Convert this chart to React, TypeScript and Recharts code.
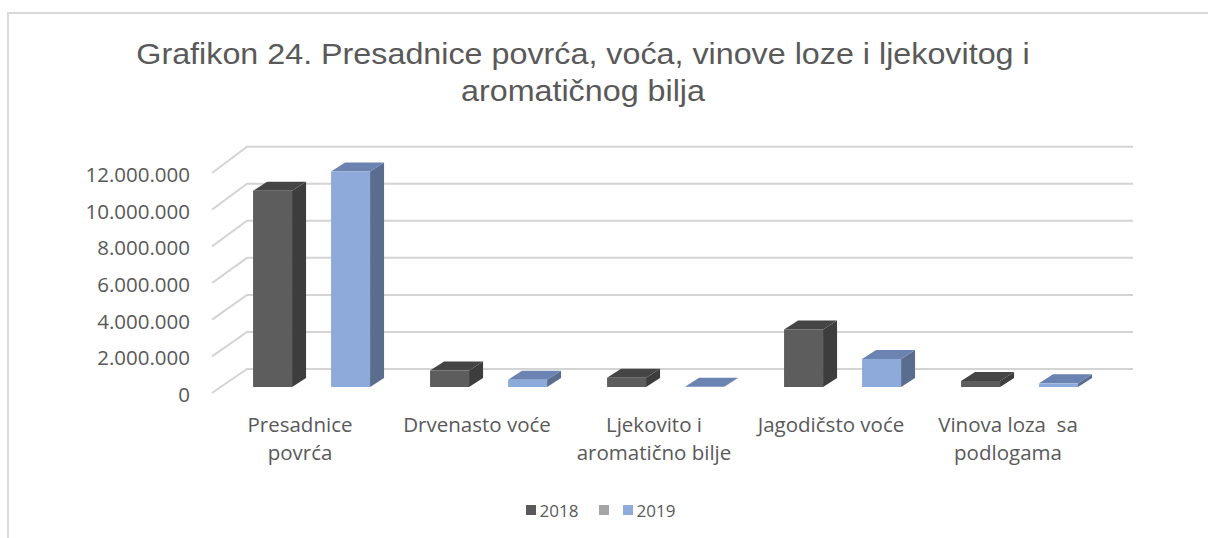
import React from 'react';
import { BarChart, Bar, XAxis, YAxis, CartesianGrid, Legend } from 'recharts';

const categories = [
  'Presadnice\npovrća',
  'Drvenasto voće',
  'Ljekovito i\naromatično bilje',
  'Jagodičsto voće',
  'Vinova loza  sa\npodlogama',
];
const values2018 = [10700000, 900000, 500000, 3140000, 330000];
const values2019 = [11750000, 400000, 20000, 1530000, 200000];
const yTicks = [0, 2000000, 4000000, 6000000, 8000000, 10000000, 12000000];
const seriesOrder = ['y2018', 'blank', 'y2019'];
const titleLines = ['Grafikon 24. Presadnice povrća, voća, vinove loze i ljekovitog i', 'aromatičnog bilja'];

const data = categories.map((c, i) => ({
  name: c,
  y2018: values2018[i],
  blank: null,
  y2019: values2019[i],
}));

const W = 1208;
const H = 538;
const PLOT_LEFT = 223.5;
const PLOT_RIGHT = 1108.5;
const PLOT_TOP = 167;
const PLOT_BOTTOM = 387;
const LEGEND_BOTTOM = 16;
const LEGEND_H = 24;
const XAXIS_H = H - PLOT_BOTTOM - LEGEND_BOTTOM - LEGEND_H;
const DX = 14;
const DY = 9;
const TEXT = '#595959';
const LABEL_FONT = '"Open Sans", sans-serif';

const fmt = (v: number) => String(v).replace(/\B(?=(\d{3})+(?!\d))/g, '.');

const makeShape = (front: string, side: string, top: string) => (props: any) => {
  const { x, y, width, height } = props;
  if (x == null || y == null || height == null || isNaN(y)) return <g />;
  return (
    <g>
      <polygon
        points={`${x + width},${y} ${x + width + DX},${y - DY} ${x + width + DX},${y + height - DY} ${x + width},${y + height}`}
        fill={side}
      />
      <polygon
        points={`${x},${y} ${x + DX},${y - DY} ${x + width + DX},${y - DY} ${x + width},${y}`}
        fill={top}
      />
      <rect x={x} y={y} width={width} height={Math.max(height, 0)} fill={front} />
    </g>
  );
};

const GridLine = (p: any) => {
  const y = p.y1;
  const frontY = y + 6;
  const backY = y - 18 - (PLOT_BOTTOM - y) * 0.0105;
  const fx = PLOT_LEFT - 11.5;
  const bx = PLOT_LEFT + 23.5;
  const ex = PLOT_RIGHT + 24.5;
  return (
    <polyline
      key={p.key}
      points={`${fx},${frontY} ${bx},${backY} ${ex},${backY}`}
      fill="none"
      stroke="#d4d4d4"
      strokeWidth={2}
    />
  );
};

const YTick = (p: any) => (
  <text
    x={p.x}
    y={p.y + 15}
    textAnchor="end"
    fill={TEXT}
    fontSize={20.5}
    fontFamily={LABEL_FONT}
  >
    {fmt(p.payload.value)}
  </text>
);

const XTick = (p: any) => {
  const lines = String(p.payload.value).split('\n');
  return (
    <text
      x={p.x - 12}
      y={p.y + 45}
      textAnchor="middle"
      fill={TEXT}
      fontSize={20.5}
      fontFamily={LABEL_FONT}
      style={{ whiteSpace: 'pre' }}
    >
      {lines.map((l, i) => (
        <tspan key={i} x={p.x - 12} dy={i === 0 ? 0 : 28}>
          {l}
        </tspan>
      ))}
    </text>
  );
};

const LegendContent = (props: any) => {
  const payload = [...(props.payload || [])].sort(
    (a: any, b: any) => seriesOrder.indexOf(a.dataKey) - seriesOrder.indexOf(b.dataKey)
  );
  return (
    <div
      style={{
        display: 'flex',
        justifyContent: 'center',
        alignItems: 'center',
        height: LEGEND_H,
        fontFamily: LABEL_FONT,
        fontSize: 17,
        color: TEXT,
        paddingRight: 7,
      }}
    >
      {payload.map((e: any, i: number) => (
        <div
          key={i}
          style={{ display: 'flex', alignItems: 'center', marginRight: i === payload.length - 1 ? 0 : e.value ? 20 : 14 }}
        >
          <span
            style={{ width: 10, height: 10, background: e.color, display: 'inline-block', marginRight: e.value ? 4 : 0 }}
          />
          <span>{e.value}</span>
        </div>
      ))}
    </div>
  );
};

export default function App() {
  return (
    <div style={{ position: 'absolute', left: 0, top: 0, width: W, height: H, background: '#fff', overflow: 'hidden' }}>
      <div
        style={{
          position: 'absolute',
          left: 7,
          top: 12,
          right: 0,
          bottom: 0,
          borderTop: '2px solid #d9d9d9',
          borderLeft: '2px solid #d9d9d9',
        }}
      />
      <div
        style={{
          position: 'absolute',
          left: 83,
          top: 35,
          width: 1000,
          textAlign: 'center',
          fontFamily: '"Liberation Sans", Arial, sans-serif',
          fontSize: 29.5,
          lineHeight: '37px',
          color: TEXT,
          transform: 'scaleX(1.094)',
          transformOrigin: '500px 0',
        }}
      >
        {titleLines.map((t, i) => (
          <div key={i}>{t}</div>
        ))}
      </div>
      <div style={{ position: 'absolute', left: 0, top: 0 }}>
        <BarChart
          width={W}
          height={H}
          data={data}
          margin={{ top: PLOT_TOP, right: W - PLOT_RIGHT, bottom: LEGEND_BOTTOM, left: PLOT_LEFT - 200 }}
          barCategoryGap="16.7%"
          barGap={0}
        >
          <CartesianGrid horizontal={GridLine as any} vertical={false} />
          <XAxis
            dataKey="name"
            axisLine={false}
            tickLine={false}
            tickSize={0}
            tickMargin={0}
            height={XAXIS_H}
            interval={0}
            tick={<XTick />}
          />
          <YAxis
            domain={[0, 12000000]}
            ticks={yTicks}
            width={200}
            axisLine={false}
            tickLine={false}
            tickSize={0}
            tickMargin={33.5}
            tick={<YTick />}
            interval={0}
          />
          <Legend
            verticalAlign="bottom"
            content={<LegendContent />}
            wrapperStyle={{ left: 0, width: W, bottom: LEGEND_BOTTOM, height: LEGEND_H }}
          />
          <Bar dataKey="y2018" name="2018" fill="#595959" isAnimationActive={false} shape={makeShape('#5d5d5d', '#3d3d3d', '#454545')} />
          <Bar dataKey="blank" name="" fill="#a5a5a5" isAnimationActive={false} />
          <Bar dataKey="y2019" name="2019" fill="#8faadc" isAnimationActive={false} shape={makeShape('#8eaadb', '#5b6d8f', '#6a83b1')} />
        </BarChart>
      </div>
    </div>
  );
}
